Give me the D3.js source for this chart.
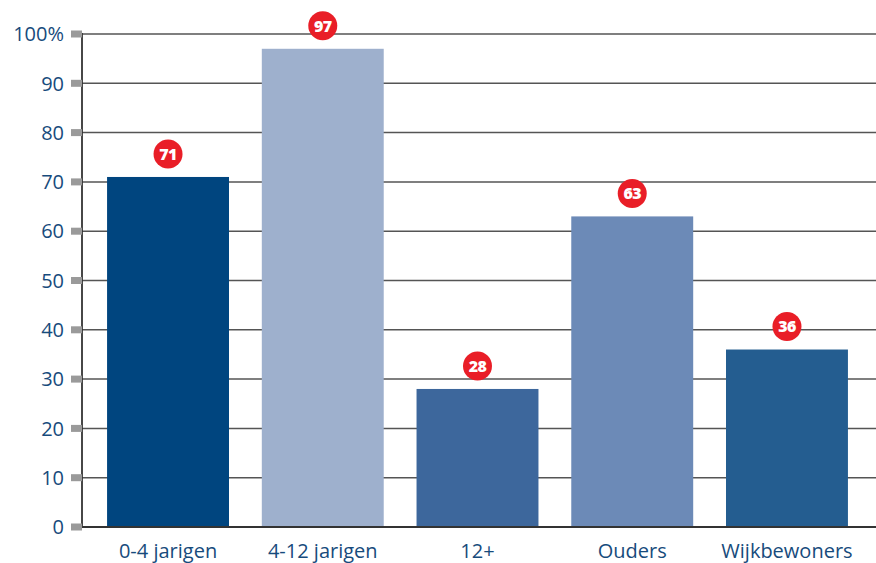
<!DOCTYPE html>
<html>
<head>
<meta charset="utf-8">
<script src="https://cdn.jsdelivr.net/npm/d3@7"></script>
<style>
  body { margin: 0; background: #fff; }
  svg { display: block; }
  .tick-label, .cat-label { font-family: "Open Sans", sans-serif; fill: #174b7c; }
</style>
</head>
<body>
<svg id="chart" width="876" height="563"></svg>
<script>
const categories = ["0-4 jarigen", "4-12 jarigen", "12+", "Ouders", "Wijkbewoners"];
const values = [71, 97, 28, 63, 36];
const barColors = ["#00457f", "#9eb0cd", "#3d679c", "#6c8ab7", "#245d90"];
const yTicks = [0, 10, 20, 30, 40, 50, 60, 70, 80, 90, 100];
const yTickLabels = ["0", "10", "20", "30", "40", "50", "60", "70", "80", "90", "100%"];

const data = categories.map((c, i) => ({cat: c, value: values[i], color: barColors[i]}));

const chart = d3.select("#chart");
const width = 876, height = 563;
const margin = {left: 82, right: 3, top: 34, bottom: 36};

let y = d3.scaleLinear()
  .domain([0, 100])
  .range([height - margin.bottom, margin.top]);

let x = d3.scaleBand()
  .domain(categories)
  .range([margin.left, width - margin.right])
  .paddingInner(0.212)
  .paddingOuter(0.162);

// gridlines
chart.append("g").selectAll("line")
  .data(yTicks.filter(t => t > 0))
  .enter().append("line")
    .attr("x1", margin.left).attr("x2", width)
    .attr("y1", d => y(d)).attr("y2", d => y(d))
    .attr("stroke", "#555")
    .attr("stroke-width", 1.5);

// bars
chart.append("g").selectAll("rect")
  .data(data)
  .enter().append("rect")
    .attr("x", d => x(d.cat))
    .attr("y", d => y(d.value))
    .attr("width", x.bandwidth())
    .attr("height", d => y(0) - y(d.value))
    .attr("fill", d => d.color);

// axes lines
chart.append("line")
  .attr("x1", margin.left).attr("x2", margin.left)
  .attr("y1", y(100) - 1).attr("y2", y(0) + 1)
  .attr("stroke", "#333").attr("stroke-width", 1.8);
chart.append("line")
  .attr("x1", margin.left).attr("x2", width)
  .attr("y1", y(0)).attr("y2", y(0))
  .attr("stroke", "#333").attr("stroke-width", 1.8);

// tick marks and labels
const tickG = chart.append("g").selectAll("g")
  .data(yTicks)
  .enter().append("g")
    .attr("transform", d => `translate(0,${y(d)})`);
tickG.append("rect")
  .attr("x", margin.left - 11).attr("y", -3.5)
  .attr("width", 11).attr("height", 7)
  .attr("fill", "#9a9a9a");
tickG.append("text")
  .attr("class", "tick-label")
  .attr("x", margin.left - 18)
  .attr("dy", "0.36em")
  .attr("text-anchor", "end")
  .style("font-size", "20px")
  .text((d, i) => yTickLabels[i]);

// category labels
chart.append("g").selectAll("text")
  .data(categories)
  .enter().append("text")
    .attr("class", "cat-label")
    .attr("x", d => x(d) + x.bandwidth() / 2)
    .attr("y", y(0) + 31)
    .attr("text-anchor", "middle")
    .style("font-size", "20px")
    .text(d => d);

// value badges
const badge = chart.append("g").selectAll("g")
  .data(data)
  .enter().append("g")
    .attr("transform", d => `translate(${x(d.cat) + x.bandwidth() / 2},${y(d.value) - 23})`);
badge.append("circle")
  .attr("r", 14.5)
  .attr("fill", "#e91e27");
badge.append("text")
  .attr("dy", "0.36em")
  .attr("text-anchor", "middle")
  .style("font-family", "'Open Sans', sans-serif")
  .style("font-weight", "800")
  .style("font-size", "16px")
  .style("letter-spacing", "-0.6px")
  .attr("fill", "#fff")
  .text(d => d.value);
</script>
</body>
</html>
